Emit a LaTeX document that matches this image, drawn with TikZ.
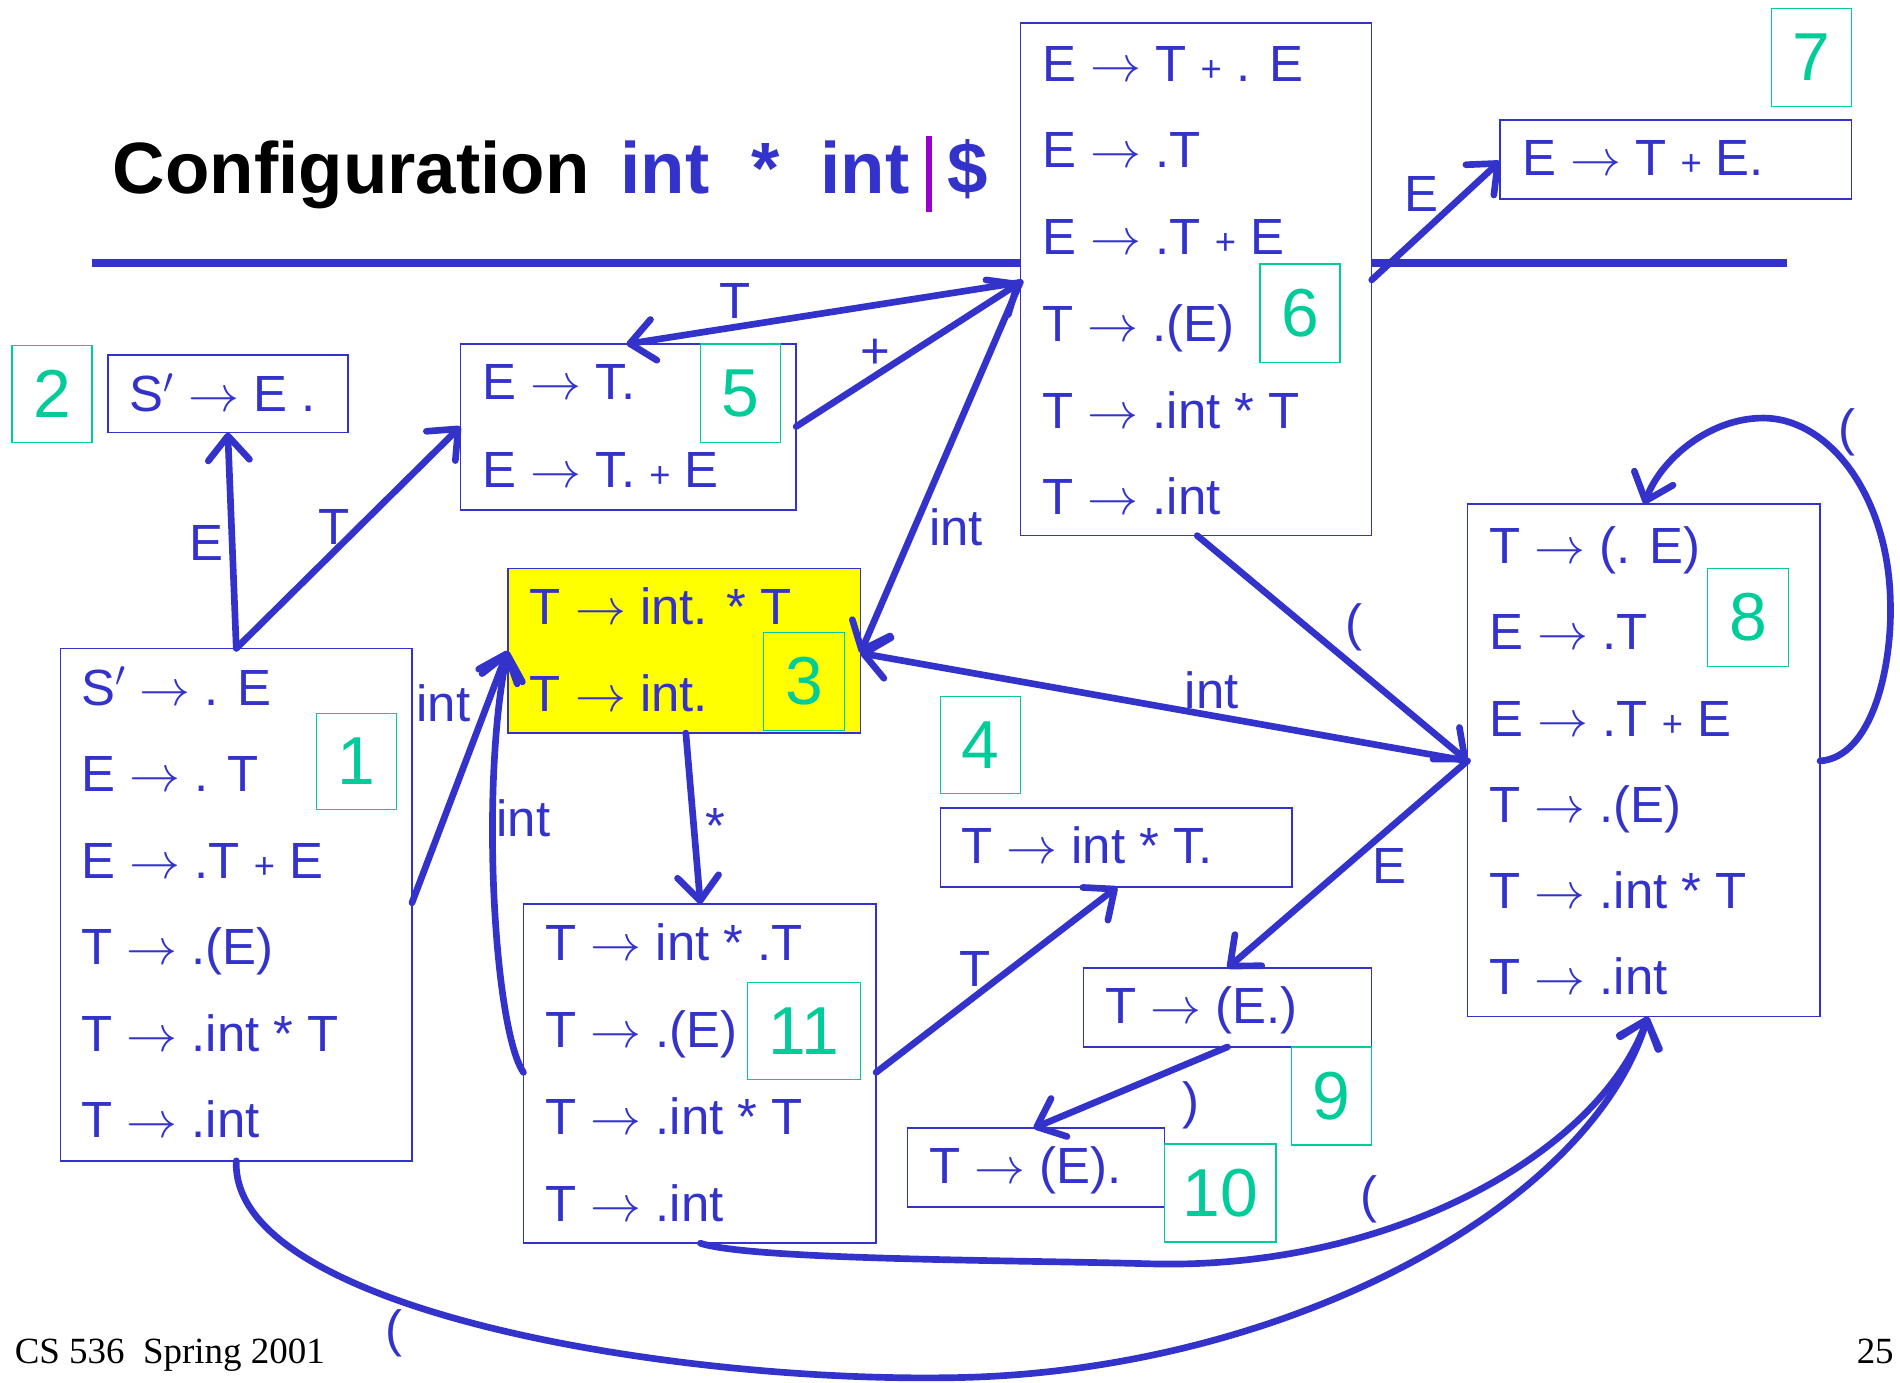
\documentclass[tikz,border=0pt]{standalone}
\usepackage{fix-cm}
\usepackage{fontspec}
\setmainfont{Liberation Sans}
\newfontfamily\footserif{Liberation Serif}
\usetikzlibrary{arrows.meta,calc}
\definecolor{bl}{RGB}{51,51,204}
\definecolor{gr}{RGB}{0,204,153}
\definecolor{pu}{RGB}{153,0,204}
\definecolor{yl}{RGB}{255,255,0}
\newcommand\myarr{\ensuremath{\rightarrow}}
\newcommand\smplus{{\fontsize{30}{32}\selectfont+}}
\tikzset{
  box/.style={draw=bl, line width=1.3pt, anchor=north west, inner sep=0pt, outer sep=0pt, fill=white},
  gbox/.style={draw=gr, line width=1.2pt, anchor=north west, inner sep=0pt, outer sep=0pt, text=gr, font=\fontsize{56}{60}\selectfont},
  item/.style={anchor=base west, inner sep=0pt, text=bl, font=\fontsize{42}{48}\selectfont},
  lab/.style={inner sep=0pt, text=bl, font=\fontsize{42}{48}\selectfont},
  ttl/.style={anchor=base west, inner sep=0pt, font=\fontsize{60}{66}\selectfont\bfseries},
  conn/.style={draw=bl, line width=5.5pt, line cap=round, line join=round, -{Straight Barb[round,length=20pt,width=34pt]}},
}
\begin{document}
\begin{tikzpicture}[x=1pt,y=-1pt]
\useasboundingbox (0,0) rectangle (1568,1141);
\fill[white] (0,0) rectangle (1568,1141);

% title
\node[ttl] (t1) at (93,160) {Configuration};
\node[ttl,text=bl] (t2) at (512,160) {int};
\node[ttl,text=bl] (t3) at (620,160) {*};
\node[ttl,text=bl] (t4) at (677,160) {int};
\fill[pu] (764,112) rectangle (769,175);
\node[ttl,text=bl] (t5) at (782,160) {\$};
% rule
\fill[bl] (76,214) rectangle (1475,220);

% boxes
\node[box, minimum width=290pt, minimum height=423pt] (b6) at (842,19) {};
\node[box, minimum width=290pt, minimum height=65pt] (b7) at (1238,99) {};
\node[box, minimum width=198pt, minimum height=64pt] (b2) at (89,293) {};
\node[box, minimum width=277pt, minimum height=137pt] (b5) at (380,284) {};
\node[box, minimum width=290pt, minimum height=423pt] (b1) at (50,535) {};
\node[box, fill=yl, minimum width=291pt, minimum height=136pt] (b3) at (419,469) {};
\node[box, minimum width=290pt, minimum height=65pt] (b4) at (776,667) {};
\node[box, minimum width=291pt, minimum height=280pt] (b11) at (432,746) {};
\node[box, minimum width=238pt, minimum height=65pt] (b9) at (894,799) {};
\node[box, minimum width=212pt, minimum height=65pt] (b10) at (749,931) {};
\node[box, minimum width=291pt, minimum height=423pt] (b8) at (1211,416) {};

% green number boxes
\node[gbox, minimum width=66pt, minimum height=81pt] (g7) at (1462,7) {7};
\node[gbox, minimum width=66pt, minimum height=81pt] (g6) at (1040,218) {6};
\node[gbox, minimum width=66pt, minimum height=80pt] (g2) at (10,285) {2};
\node[gbox, minimum width=66pt, minimum height=81pt] (g5) at (578,284) {5};
\node[gbox, minimum width=66pt, minimum height=79pt] (g1) at (261,589) {1};
\node[gbox, minimum width=67pt, minimum height=81pt] (g3) at (630,522) {3};
\node[gbox, minimum width=66pt, minimum height=80pt] (g4) at (776,575) {4};
\node[gbox, minimum width=93pt, minimum height=80pt] (g11) at (617,811) {11};
\node[gbox, minimum width=66pt, minimum height=81pt] (g9) at (1066,864) {9};
\node[gbox, minimum width=92pt, minimum height=81pt] (g10) at (961,944) {10};
\node[gbox, minimum width=67pt, minimum height=81pt] (g8) at (1409,469) {8};

% items
\foreach \t [count=\i] in {E \myarr{} T \smplus{} . E, E \myarr{} .T, E \myarr{} .T \smplus{} E, T \myarr{} .(E), T \myarr{} .int * T, T \myarr{} .int}
  \node[item] (i6-\i) at (860,{67+71.6*(\i-1)}) {\t};
\node[item] (i7) at (1256,145) {E \myarr{} T \smplus{} E.};
\node[item] (i2) at (107,340) {S$'$ \myarr{} E .};
\node[item] (i5-1) at (398,330) {E \myarr{} T.};
\node[item] (i5-2) at (398,402) {E \myarr{} T. \smplus{} E};
\foreach \t [count=\i] in {S$'$ \myarr{} . E, E \myarr{} . T, E \myarr{} .T \smplus{} E, T \myarr{} .(E), T \myarr{} .int * T, T \myarr{} .int}
  \node[item] (i1-\i) at (67,{582+71.4*(\i-1)}) {\t};
\node[item] (i3-1) at (437,515) {T \myarr{} int. * T};
\node[item] (i3-2) at (437,587) {T \myarr{} int.};
\node[item] (i4) at (793,713) {T \myarr{} int * T.};
\foreach \t [count=\i] in {T \myarr{} int * .T, T \myarr{} .(E), T \myarr{} .int * T, T \myarr{} .int}
  \node[item] (i11-\i) at (450,{793+71.7*(\i-1)}) {\t};
\node[item] (i9) at (912,845) {T \myarr{} (E.)};
\node[item] (i10) at (767,977) {T \myarr{} (E).};
\foreach \t [count=\i] in {T \myarr{} (. E), E \myarr{} .T, E \myarr{} .T \smplus{} E, T \myarr{} .(E), T \myarr{} .int * T, T \myarr{} .int}
  \node[item] (i8-\i) at (1229,{465+71.2*(\i-1)}) {\t};

% connection points
\coordinate (p6w) at ($(b6.north west)+(0,214)$);
\coordinate (p6e) at ($(b6.north east)+(0,212)$);
\coordinate (p6s) at ($(b6.south west)+(146,0)$);
\coordinate (p7w) at ($(b7.north west)+(0,34)$);
\coordinate (p5n) at ($(b5.north west)+(137,0)$);
\coordinate (p5e) at ($(b5.north east)+(0,68)$);
\coordinate (p5w) at ($(b5.north west)+(0,68)$);
\coordinate (p3e) at ($(b3.north east)+(0,70)$);
\coordinate (p3w) at ($(b3.north west)+(0,68)$);
\coordinate (p3s) at ($(b3.south west)+(147,0)$);
\coordinate (p1n) at ($(b1.north west)+(145,0)$);
\coordinate (p1e) at ($(b1.north east)+(0,210)$);
\coordinate (p1s) at ($(b1.south west)+(145,0)$);
\coordinate (p2s) at ($(b2.south west)+(99,0)$);
\coordinate (p11n) at ($(b11.north west)+(146,0)$);
\coordinate (p11w) at ($(b11.north west)+(0,139)$);
\coordinate (p11e) at ($(b11.north east)+(0,139)$);
\coordinate (p11s) at ($(b11.south west)+(146,0)$);
\coordinate (p4s) at ($(b4.south west)+(146,0)$);
\coordinate (p8w) at ($(b8.north west)+(0,212)$);
\coordinate (p8e) at ($(b8.north east)+(0,212)$);
\coordinate (p8n) at ($(b8.north west)+(146,0)$);
\coordinate (p8s) at ($(b8.south west)+(149,0)$);
\coordinate (p9n) at ($(b9.north west)+(119,0)$);
\coordinate (p9s) at ($(b9.south west)+(119,0)$);
\coordinate (p10n) at ($(b10.north west)+(104,0)$);

% connectors
\draw[conn] (p6e) -- (p7w);
\draw[conn] (p6w) -- (p5n);
\draw[conn] (p5e) -- (p6w);
\draw[conn] (p6w) -- (p3e);
\draw[conn] (p1n) -- (p2s);
\draw[conn] (p1n) -- (p5w);
\draw[conn] (p1e) -- (p3w);
\draw[conn] (p11w) .. controls (408,850) and (396,650) .. (p3w);
\draw[conn] (p3s) -- (p11n);
\draw[conn] (p8w) -- (p3e);
\draw[conn] (p6s) -- (p8w);
\draw[conn] (p8w) -- (p9n);
\draw[conn] (p9s) -- (p10n);
\draw[conn] (p11e) -- (p4s);
\draw[conn] (p8e) .. controls (1545,625) and (1562,550) .. (1560,495)
  .. controls (1558,410) and (1510,345) .. (1455,345)
  .. controls (1410,345) and (1370,380) .. (p8n);
\draw[conn] (p11s) .. controls (620,1040) and (850,1040) .. (950,1043)
  .. controls (1150,1048) and (1320,950) .. (p8s);
\draw[conn] (p1s) .. controls (190,1080) and (550,1140) .. (780,1137)
  .. controls (1050,1135) and (1310,1000) .. (p8s);

% labels
\node[lab] (l1) at (1173,160) {E};
\node[lab] (l2) at (607,248) {T};
\node[lab] (l3) at (722,292) {+};
\node[lab] (l4) at (789,435) {int};
\node[lab] (l5) at (170,448) {E};
\node[lab] (l6) at (276,435) {T};
\node[lab] (l7) at (366,580) {int};
\node[lab] (l8) at (432,675) {int};
\node[lab] (l9) at (590,682) {*};
\node[lab] (l10) at (1000,570) {int};
\node[lab] (l11) at (1117,518) {(};
\node[lab] (l12) at (1524,357) {(};
\node[lab] (l13) at (805,800) {T};
\node[lab] (l14) at (1147,715) {E};
\node[lab] (l15) at (983,912) {)};
\node[lab] (l16) at (1130,990) {(};
\node[lab] (l17) at (325,1100) {(};

% footer
\node[anchor=base west, inner sep=0pt, font=\footserif\fontsize{30.5}{33}\selectfont] (f1) at (12,1125) {CS 536~~Spring 2001};
\node[anchor=base east, inner sep=0pt, font=\footserif\fontsize{30.5}{33}\selectfont] (f2) at (1563,1125) {25};
\end{tikzpicture}
\end{document}
